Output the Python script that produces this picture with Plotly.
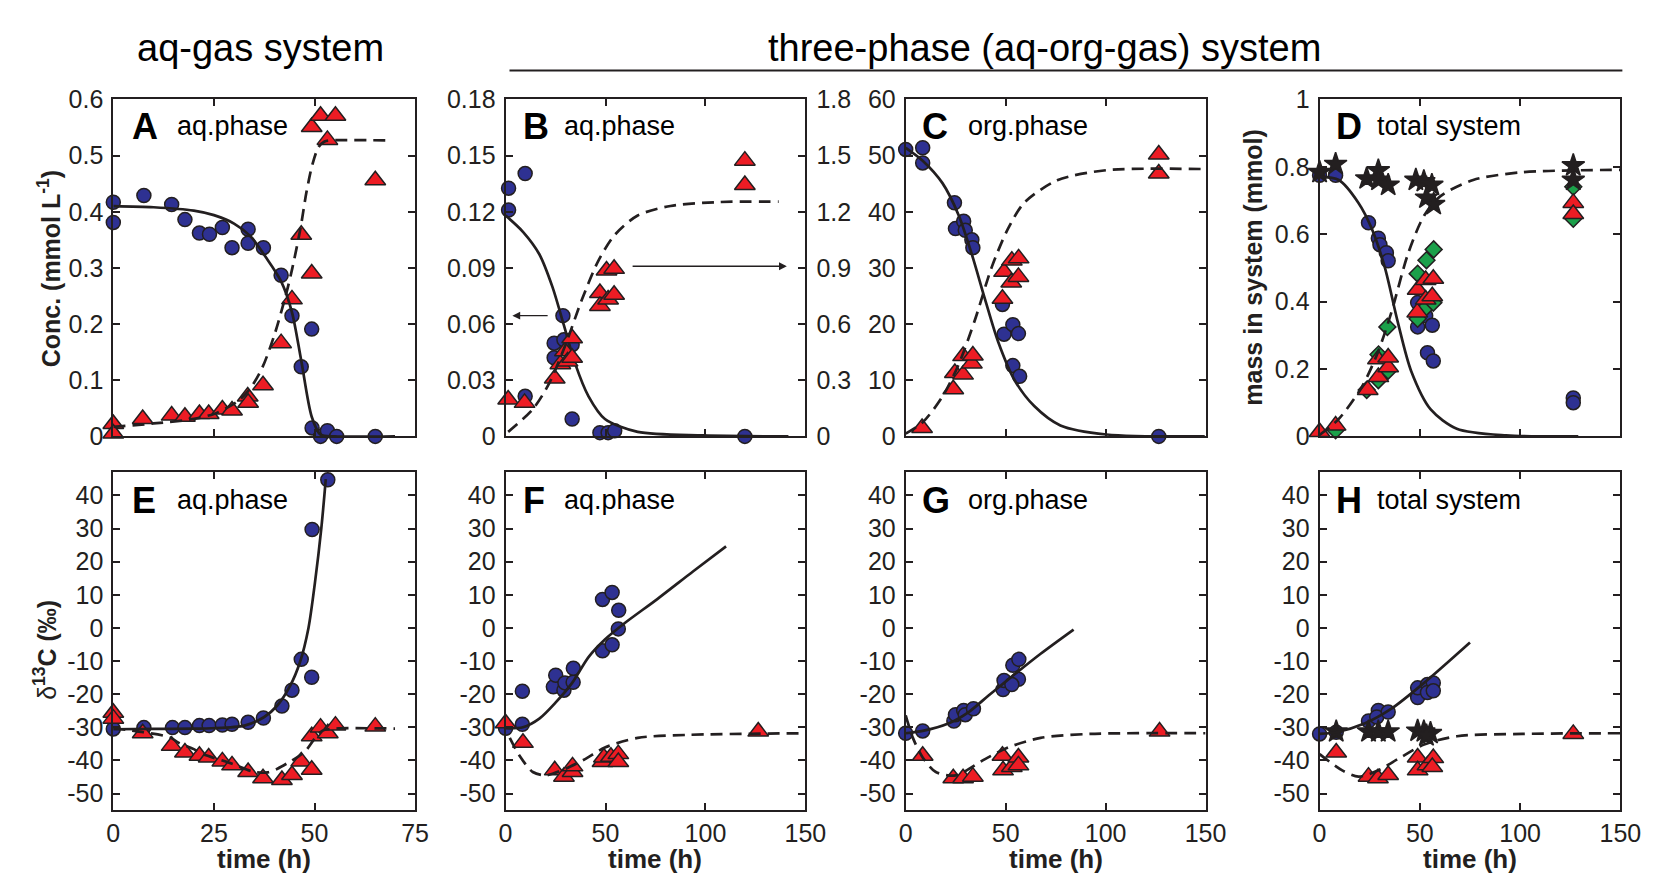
import plotly.graph_objects as go

W, H = 1657, 880
FONT = "Liberation Sans, Arial, Helvetica, sans-serif"
INK = "#231F20"
BLUE = "#2E3192"
RED = "#ED1C24"
GREEN = "#1BA04A"

# ---------------- Panel A (aq-gas system, concentrations) ----------------
A_circ_t = [0, 0, 7.6, 14.5, 17.8, 21.4, 23.9, 27.1, 29.5, 33.5, 33.5, 37.3, 41.7, 44.4, 46.7, 49.3, 49.4, 51.5, 53.2, 55.5, 65.1]
A_circ_c = [0.417, 0.381, 0.429, 0.413, 0.386, 0.362, 0.360, 0.372, 0.336, 0.369, 0.344, 0.336, 0.287, 0.215, 0.124, 0.191, 0.015, 0.0, 0.010, 0.0, 0.0]
A_tri_t = [0, 0, 7.3, 14.5, 17.8, 21.4, 23.7, 27.1, 29.5, 33.4, 33.5, 37.2, 41.7, 44.4, 46.7, 49.3, 49.3, 51.5, 55.2, 53.2, 65.1]
A_tri_c = [0.022, 0.005, 0.031, 0.037, 0.035, 0.040, 0.040, 0.048, 0.046, 0.071, 0.060, 0.091, 0.166, 0.244, 0.359, 0.290, 0.551, 0.571, 0.571, 0.528, 0.456]
A_fit_t = [0, 10, 20, 25, 30, 34, 38, 41.7, 44.4, 46.7, 49.3, 51.5, 55, 70]
A_fit_c = [0.410, 0.408, 0.402, 0.394, 0.379, 0.357, 0.318, 0.276, 0.221, 0.135, 0.035, 0.003, 0.0, 0.0]
A_dash_t = [0, 10, 20, 25, 28, 31, 34, 37, 40, 43, 44.5, 46.5, 48, 49.5, 51, 52.5, 54, 68.5]
A_dash_c = [0.017, 0.023, 0.031, 0.040, 0.050, 0.063, 0.085, 0.122, 0.180, 0.255, 0.300, 0.370, 0.435, 0.485, 0.515, 0.525, 0.527, 0.527]

# ---------------- Panel B (three-phase, aq phase; triangles on right axis) ----------------
B_circ_t = [1.5, 1.5, 9.8, 9.8, 28.7, 24.3, 29.2, 24.3, 33.3, 33.3, 47.2, 51.3, 54.6, 119.7]
B_circ_c = [0.1326, 0.1209, 0.1404, 0.0214, 0.0645, 0.0498, 0.0516, 0.0420, 0.0490, 0.0093, 0.002, 0.002, 0.003, 0.0]
B_tri_t = [1.3, 9.5, 24.6, 27.4, 29.7, 31.0, 33.3, 33.3, 47.2, 47.2, 51.3, 54.3, 50.5, 54.3, 119.7, 119.7]
B_tri_r = [0.197, 0.179, 0.309, 0.386, 0.455, 0.400, 0.420, 0.524, 0.766, 0.697, 0.731, 0.757, 0.886, 0.895, 1.473, 1.343]
B_fit_t = [0, 8.7, 16.9, 23.4, 29.2, 34.9, 41.5, 49.7, 66.1, 98.9, 141.5]
B_fit_c = [0.118, 0.1093, 0.0973, 0.080, 0.0593, 0.0386, 0.0214, 0.0093, 0.0024, 0.0005, 0.0]
B_dash_t = [1.3, 13.6, 21.8, 30, 38.2, 46.4, 54.6, 66.1, 82.5, 107.1, 136.6]
B_dash_r = [0.024, 0.145, 0.283, 0.49, 0.731, 0.938, 1.076, 1.18, 1.231, 1.252, 1.254]
B_arrow_left = dict(tail_t=21.8, head_t=3.4, c=0.0645)
B_arrow_right = dict(tail_t=62.8, head_t=140.7, c=0.0909)

# ---------------- Panel C (org phase) ----------------
C_circ_t = [0, 8.5, 8.5, 24.4, 24.9, 29.0, 29.8, 33.1, 33.6, 48.4, 49.2, 53.6, 56.4, 53.6, 57.0, 126.6]
C_circ_c = [51.1, 51.4, 48.7, 41.6, 37.0, 38.3, 36.7, 35.0, 33.6, 23.5, 18.2, 19.9, 18.3, 12.6, 10.7, 0]
C_tri_t = [8.2, 23.8, 24.6, 28.7, 28.7, 33.1, 33.6, 48.4, 49.2, 52.8, 53.1, 56.5, 56.4, 126.6, 126.6]
C_tri_c = [1.5, 8.4, 11.3, 11.0, 14.3, 13.0, 14.4, 24.5, 29.3, 27.4, 31.3, 31.7, 28.4, 50.2, 46.8]
C_fit_t = [0, 8.5, 18.4, 26.6, 33.1, 39.7, 46.2, 54.5, 64.3, 77.4, 100.4, 149.6]
C_fit_c = [51.4, 49.1, 45.1, 39.3, 32.4, 24.4, 16.9, 10.0, 5.4, 1.95, 0.34, 0]
C_dash_t = [0, 8.5, 18.4, 26.6, 34.8, 43.0, 51.2, 59.3, 75.8, 100.4, 150]
C_dash_c = [0.5, 2.5, 7.1, 12.9, 20.9, 30.1, 37.0, 41.6, 45.6, 47.4, 47.6]

# ---------------- Panel D (total system, mass) ----------------
D_circ_t = [0, 8.0, 24.4, 29.3, 30.1, 33.3, 34.2, 48.9, 48.9, 52.9, 56.2, 53.8, 56.7, 126.5, 126.5]
D_circ_m = [0.775, 0.775, 0.634, 0.588, 0.569, 0.545, 0.521, 0.397, 0.325, 0.358, 0.330, 0.248, 0.224, 0.114, 0.100]
D_dia_t = [0, 8, 23.5, 29.3, 29.4, 34.2, 33.8, 48.9, 53.3, 56.9, 48.9, 52.9, 56.7, 126.5, 126.5]
D_dia_m = [-0.01, 0.018, 0.138, 0.167, 0.243, 0.195, 0.325, 0.483, 0.523, 0.555, 0.349, 0.382, 0.397, 0.741, 0.646]
D_tri_t = [0, 8, 24, 29.3, 29.1, 34.2, 34.2, 48.9, 48.7, 52.9, 52.9, 56.7, 56.2, 126.5, 126.5]
D_tri_m = [0.013, 0.032, 0.138, 0.176, 0.229, 0.205, 0.234, 0.435, 0.368, 0.406, 0.464, 0.468, 0.416, 0.693, 0.660]
D_star_t = [0, 8.0, 23.5, 29.3, 29.4, 34.2, 48.0, 52.0, 56.0, 53.3, 56.9, 126.5, 126.5]
D_star_m = [0.784, 0.808, 0.765, 0.789, 0.761, 0.746, 0.761, 0.757, 0.746, 0.708, 0.689, 0.804, 0.761]
D_fit_t = [0, 9.6, 19.4, 26, 32.5, 39, 45.6, 55.4, 68.4, 93, 129]
D_fit_m = [0.770, 0.761, 0.693, 0.617, 0.502, 0.339, 0.195, 0.080, 0.023, 0.003, 0.0]
D_dash_t = [0, 9.6, 21.1, 29.3, 35.8, 44, 52.1, 60.3, 76.6, 101.1, 150]
D_dash_m = [0.004, 0.052, 0.147, 0.253, 0.368, 0.540, 0.655, 0.713, 0.761, 0.784, 0.791]

# ---------------- Panel E (aq-gas, d13C) ----------------
E_circ_t = [0, 7.6, 14.7, 17.8, 21.4, 23.8, 27.1, 29.5, 33.5, 37.3, 41.9, 44.4, 46.7, 49.3, 49.4, 53.3]
E_circ_d = [-30.5, -30.1, -30.1, -30.1, -29.5, -29.5, -29.3, -29.1, -28.5, -27.2, -23.6, -18.8, -9.5, -14.9, 29.7, 44.7]
E_tri_t = [0, 0, 7.3, 14.5, 17.8, 21.4, 23.7, 27.1, 29.5, 33.5, 37.2, 41.9, 44.4, 46.7, 49.3, 49.3, 51.5, 53.3, 55.2, 65.1]
E_tri_d = [-25.6, -27.4, -31.8, -35.6, -37.6, -38.6, -39.1, -40.3, -41.5, -43.5, -45.4, -45.9, -44.4, -40.3, -42.8, -32.7, -30.1, -31.8, -29.5, -29.8]
E_fit_t = [0, 10, 20, 24.4, 32.6, 37.5, 40.7, 43.9, 46.4, 48.5, 50.1, 51.7, 52.8]
E_fit_d = [-30.6, -30.5, -30.4, -30.3, -29.5, -26.9, -23.5, -17.6, -10.3, 0.0, 13.6, 30.2, 44.9]
E_dash_t = [0, 7.5, 14, 16.3, 20, 22, 29.5, 35, 38.4, 40.8, 44, 46.2, 47.8, 50, 52, 55, 70]
E_dash_d = [-30.3, -31.5, -33.0, -34.7, -36.6, -38.0, -41.0, -43.5, -43.6, -42.5, -40.3, -38.6, -37.1, -33.5, -31.0, -30.4, -30.4]

# ---------------- Panel F (three-phase aq, d13C) ----------------
F_circ_t = [0, 8.4, 8.4, 23.9, 25.1, 29.2, 29.7, 33.8, 33.9, 48.5, 53.3, 56.6, 56.4, 48.5, 53.3]
F_circ_d = [-30.3, -29.1, -19.1, -17.8, -14.3, -18.8, -16.6, -16.4, -12.2, 8.6, 10.7, 5.3, -0.3, -6.9, -5.1]
F_tri_t = [0, 8.7, 24.6, 29.2, 33.5, 33.5, 48.5, 49.2, 52.7, 56.4, 56.4, 126.4]
F_tri_d = [-28.8, -34.7, -43.0, -44.9, -43.5, -41.8, -40.5, -39.1, -38.9, -38.1, -40.5, -31.3]
F_fit_t = [0, 8.7, 16.9, 25.1, 33.3, 41.5, 49.7, 59.5, 75.9, 93.9, 110.3]
F_fit_d = [-30.3, -30.0, -27.4, -22.5, -16.6, -8.8, -3.5, 1.4, 8.7, 17.1, 24.6]
F_dash_t = [2.1, 7, 13.6, 20, 30, 39.8, 49.7, 66.1, 90.7, 149.6]
F_dash_d = [-33.2, -38.6, -43.5, -44.5, -42.5, -39.6, -36.1, -33.2, -32.3, -31.8]

# ---------------- Panel G (org phase, d13C) ----------------
G_circ_t = [0, 8.5, 24.1, 24.9, 29.0, 29.8, 33.9, 48.7, 49.2, 53.6, 56.6, 56.4, 53.1]
G_circ_d = [-31.8, -31.1, -28.1, -26.2, -24.9, -26.2, -24.4, -18.6, -15.9, -11.3, -9.5, -15.5, -17.1]
G_tri_t = [8.5, 23.8, 28.7, 33.6, 48.4, 48.7, 53.1, 56.4, 56.4, 127]
G_tri_d = [-38.6, -45.4, -45.4, -44.9, -38.6, -43.0, -42.0, -39.1, -41.5, -31.3]
G_fit_t = [0, 8.5, 21.6, 31.5, 41.3, 51.2, 67.5, 84]
G_fit_d = [-31.8, -31.1, -28.8, -25.4, -20.5, -15.6, -7.8, -0.5]
G_dash_t = [0, 3.6, 8.5, 15.1, 25, 39.7, 51.2, 67.5, 92.1, 150]
G_dash_d = [-26.4, -33.2, -39.1, -43.5, -44.5, -39.6, -36.1, -33.2, -32.0, -31.8]

# ---------------- Panel H (total system, d13C) ----------------
H_circ_t = [0, 8.3, 24.4, 29.3, 28.5, 34.2, 48.9, 48.9, 53.8, 56.7, 53.8, 56.7]
H_circ_d = [-32.0, -31.5, -28.1, -24.9, -26.9, -25.4, -21.0, -18.1, -17.1, -16.6, -19.5, -19.0]
H_star_t = [8.3, 24.4, 29.3, 34.2, 48.9, 52.0, 55.3, 53.3]
H_star_d = [-31.3, -31.3, -31.3, -31.3, -31.1, -31.3, -31.8, -32.5]
H_tri_t = [8.3, 24.4, 29.1, 34.2, 48.9, 48.9, 53.8, 56.7, 56.2, 126.5]
H_tri_d = [-37.6, -44.9, -45.4, -44.4, -39.1, -43.0, -41.5, -39.3, -42.0, -32.0]
H_fit_t = [0, 8.3, 22.7, 35.8, 52.1, 75]
H_fit_d = [-32.0, -31.5, -28.8, -24.4, -16.6, -4.4]
H_dash_t = [0, 11.3, 19.4, 29.3, 39.0, 52.1, 68.5, 101.1, 150]
H_dash_d = [-38.1, -43.0, -44.9, -43.0, -39.6, -35.2, -32.7, -32.0, -31.8]

# ---------------- Axis ticks / labels ----------------
D13C_TICKS = [-50, -40, -30, -20, -10, 0, 10, 20, 30, 40]
D13C_TEXT = [str(v) for v in D13C_TICKS]
PANEL_LETTERS = ["A", "B", "C", "D", "E", "F", "G", "H"]
PANEL_TEXTS = ["aq.phase", "aq.phase", "org.phase", "total system",
               "aq.phase", "aq.phase", "org.phase", "total system"]

# ---------------- Layout geometry (pixels) ----------------
COLS = [(100, 407), (499, 804), (906, 1211), (1327, 1633)]
ROWS = [(80, 428), (465, 814)]


def fx(p):
    return p / W


def fy(p):
    return 1 - p / H


fig = go.Figure()

MK = dict(
    circle=dict(symbol="circle", size=14, color=BLUE),
    tri=dict(symbol="triangle-up", size=18, color=RED),
    dia=dict(symbol="diamond", size=13, color=GREEN),
    star=dict(symbol="star", size=17, color=INK),
)


def pts(xa, ya, t, v, kind):
    m = dict(MK[kind])
    m["line"] = dict(color=INK, width=1.5)
    fig.add_trace(go.Scatter(x=t, y=v, mode="markers", marker=m, xaxis=xa, yaxis=ya,
                             cliponaxis=False, showlegend=False, hoverinfo="x+y"))


def curve(xa, ya, t, v, dashed):
    fig.add_trace(go.Scatter(x=t, y=v, mode="lines", xaxis=xa, yaxis=ya,
                             line=dict(color=INK, width=2.7, shape="spline", smoothing=0.8,
                                       dash="12px,7px" if dashed else "solid"),
                             cliponaxis=False, showlegend=False, hoverinfo="skip"))


# A
pts("x", "y", A_circ_t, A_circ_c, "circle")
pts("x", "y", A_tri_t, A_tri_c, "tri")
curve("x", "y", A_fit_t, A_fit_c, False)
curve("x", "y", A_dash_t, A_dash_c, True)
# B
pts("x2", "y2", B_circ_t, B_circ_c, "circle")
pts("x2", "y9", B_tri_t, B_tri_r, "tri")
curve("x2", "y2", B_fit_t, B_fit_c, False)
curve("x2", "y9", B_dash_t, B_dash_r, True)
# C
pts("x3", "y3", C_circ_t, C_circ_c, "circle")
pts("x3", "y3", C_tri_t, C_tri_c, "tri")
curve("x3", "y3", C_fit_t, C_fit_c, False)
curve("x3", "y3", C_dash_t, C_dash_c, True)
# D
pts("x4", "y4", D_circ_t, D_circ_m, "circle")
pts("x4", "y4", D_dia_t, D_dia_m, "dia")
pts("x4", "y4", D_tri_t, D_tri_m, "tri")
pts("x4", "y4", D_star_t, D_star_m, "star")
curve("x4", "y4", D_fit_t, D_fit_m, False)
curve("x4", "y4", D_dash_t, D_dash_m, True)
# E
pts("x5", "y5", E_circ_t, E_circ_d, "circle")
pts("x5", "y5", E_tri_t, E_tri_d, "tri")
curve("x5", "y5", E_fit_t, E_fit_d, False)
curve("x5", "y5", E_dash_t, E_dash_d, True)
# F
pts("x6", "y6", F_circ_t, F_circ_d, "circle")
pts("x6", "y6", F_tri_t, F_tri_d, "tri")
curve("x6", "y6", F_fit_t, F_fit_d, False)
curve("x6", "y6", F_dash_t, F_dash_d, True)
# G
pts("x7", "y7", G_circ_t, G_circ_d, "circle")
pts("x7", "y7", G_tri_t, G_tri_d, "tri")
curve("x7", "y7", G_fit_t, G_fit_d, False)
curve("x7", "y7", G_dash_t, G_dash_d, True)
# H
pts("x8", "y8", H_circ_t, H_circ_d, "circle")
pts("x8", "y8", H_star_t, H_star_d, "star")
pts("x8", "y8", H_tri_t, H_tri_d, "tri")
curve("x8", "y8", H_fit_t, H_fit_d, False)
curve("x8", "y8", H_dash_t, H_dash_d, True)

TICKFONT = dict(family=FONT, size=25, color=INK)
BASE = dict(ticks="inside", ticklen=7, tickwidth=1.6, tickcolor=INK, showline=True,
            linewidth=2, linecolor=INK, mirror="ticks", showgrid=False, zeroline=False,
            tickfont=TICKFONT, fixedrange=True)

x_ranges = [[0, 75], [0, 150], [0, 150], [0, 150]]
x_dticks = [25, 50, 50, 50]
y_top = [([0, 0.6], 0.1), ([0, 0.18], 0.03), ([0, 60], 10), ([0, 1], 0.2)]

layout = dict(width=W, height=H, margin=dict(l=0, r=0, t=0, b=0),
              paper_bgcolor="white", plot_bgcolor="white", showlegend=False,
              font=dict(family=FONT, color=INK))

for r in range(2):
    for c in range(4):
        i = r * 4 + c + 1
        sfx = "" if i == 1 else str(i)
        xd = [fx(COLS[c][0]), fx(COLS[c][1])]
        yd = [fy(ROWS[r][1]), fy(ROWS[r][0])]
        xa = dict(BASE, domain=xd, range=x_ranges[c], tick0=0, dtick=x_dticks[c],
                  anchor="y" + sfx, showticklabels=(r == 1))
        if r == 0:
            rng, dt = y_top[c]
            ya = dict(BASE, domain=yd, range=rng, tick0=0, dtick=dt, anchor="x" + sfx,
                      ticklabelstandoff=3)
        else:
            ya = dict(BASE, domain=yd, range=[-55, 47], tickmode="array",
                      tickvals=D13C_TICKS, ticktext=D13C_TEXT, anchor="x" + sfx,
                      ticklabelstandoff=3)
        layout["xaxis" + sfx] = xa
        layout["yaxis" + sfx] = ya

layout["yaxis9"] = dict(BASE, overlaying="y2", side="right", anchor="x2", range=[0, 1.8],
                        tick0=0, dtick=0.3, showline=False, mirror=False, ticklabelstandoff=10)

annotations = []
LETTER_X = [117, 515, 921, 1342]
TEXT_X = [163, 556, 967, 1383]
ROW_LABEL_Y = [107.5, 494]
for r in range(2):
    for c in range(4):
        k = r * 4 + c
        annotations.append(dict(text="<b>%s</b>" % PANEL_LETTERS[k], x=fx(LETTER_X[c]), y=fy(ROW_LABEL_Y[r]),
                                xref="paper", yref="paper", xanchor="left", yanchor="middle",
                                showarrow=False, font=dict(family=FONT, size=36, color="black")))
        annotations.append(dict(text=PANEL_TEXTS[k], x=fx(TEXT_X[c]), y=fy(ROW_LABEL_Y[r]),
                                xref="paper", yref="paper", xanchor="left", yanchor="middle",
                                showarrow=False, font=dict(family=FONT, size=27, color="black")))

# time axis titles
for c in range(4):
    annotations.append(dict(text="<b>time (h)</b>", x=fx((COLS[c][0] + COLS[c][1]) / 2), y=fy(865),
                            xref="paper", yref="paper", xanchor="center", yanchor="middle",
                            showarrow=False, font=dict(family=FONT, size=26, color=INK)))

# y axis titles
annotations.append(dict(text="<b>Conc. (mmol L<sup>-1</sup>)</b>", x=fx(35), y=fy(254), textangle=-90,
                        xref="paper", yref="paper", xanchor="center", yanchor="middle",
                        showarrow=False, font=dict(family=FONT, size=25, color=INK)))
annotations.append(dict(text="<b>mass in system (mmol)</b>", x=fx(1259), y=fy(253), textangle=-90,
                        xref="paper", yref="paper", xanchor="center", yanchor="middle",
                        showarrow=False, font=dict(family=FONT, size=25, color=INK)))
annotations.append(dict(text="δ<b><sup>13</sup>C (‰)</b>", x=fx(31), y=fy(648), textangle=-90,
                        xref="paper", yref="paper", xanchor="center", yanchor="middle",
                        showarrow=False, font=dict(family=FONT, size=25, color=INK)))

# top titles
annotations.append(dict(text="aq-gas system", x=fx(250), y=fy(27), xref="paper", yref="paper",
                        xanchor="center", yanchor="middle", showarrow=False,
                        font=dict(family=FONT, size=38, color="black")))
annotations.append(dict(text="three-phase (aq-org-gas) system", x=fx(1047), y=fy(27), xref="paper", yref="paper",
                        xanchor="center", yanchor="middle", showarrow=False,
                        font=dict(family=FONT, size=38, color="black")))

# arrows in panel B
for arr in (B_arrow_left, B_arrow_right):
    annotations.append(dict(text="", x=arr["head_t"], y=arr["c"], ax=arr["tail_t"], ay=arr["c"],
                            xref="x2", yref="y2", axref="x2", ayref="y2", showarrow=True,
                            arrowhead=2, arrowsize=1.2, arrowwidth=1.3, arrowcolor=INK))

layout["annotations"] = annotations
layout["shapes"] = [dict(type="line", xref="paper", yref="paper", x0=fx(503), x1=fx(1635),
                         y0=fy(50), y1=fy(50), line=dict(color=INK, width=2))]

fig.update_layout(**layout)
fig.write_html("out.html")
